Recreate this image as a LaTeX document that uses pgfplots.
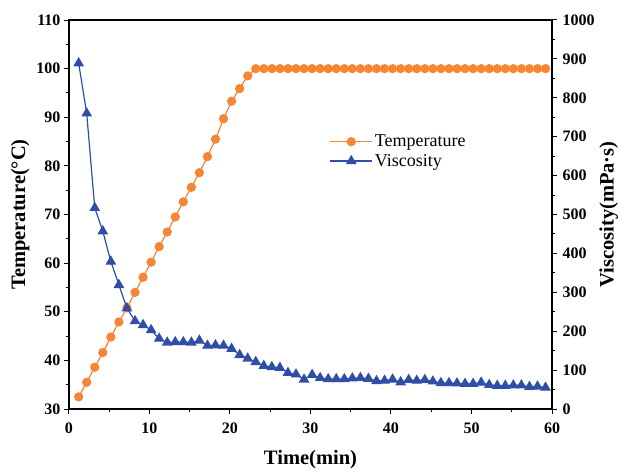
\documentclass[border=0pt]{standalone}
\usepackage{fontspec}
\setmainfont{Liberation Serif}
\usepackage{pgfplots}
\pgfplotsset{compat=1.18}
\definecolor{tcol}{RGB}{246,133,54}
\definecolor{vcol}{RGB}{46,78,168}

\pgfplotstableread{
t T
1.2 32.5
2.2 35.5
3.2 38.6
4.2 41.6
5.2 44.8
6.2 47.9
7.2 50.8
8.2 54.0
9.2 57.1
10.2 60.2
11.2 63.4
12.2 66.4
13.2 69.5
14.2 72.6
15.2 75.6
16.2 78.6
17.2 81.9
18.2 85.5
19.2 89.7
20.2 93.3
21.2 95.9
22.2 98.5
23.2 100
24.2 100
25.2 100
26.2 100
27.2 100
28.2 100
29.2 100
30.2 100
31.2 100
32.2 100
33.2 100
34.2 100
35.2 100
36.2 100
37.2 100
38.2 100
39.2 100
40.2 100
41.2 100
42.2 100
43.2 100
44.2 100
45.2 100
46.2 100
47.2 100
48.2 100
49.2 100
50.2 100
51.2 100
52.2 100
53.2 100
54.2 100
55.2 100
56.2 100
57.2 100
58.2 100
59.2 100
}\temptable

\pgfplotstableread{
t V
1.2 889
2.2 760
3.2 517
4.2 457
5.2 379
6.2 319
7.2 259
8.2 226
9.2 216
10.2 203
11.2 181
12.2 171
13.2 172
14.2 172
15.2 171
16.2 176
17.2 163
18.2 164
19.2 163
20.2 155
21.2 139
22.2 130
23.2 121
24.2 111
25.2 108
26.2 106
27.2 93
28.2 89
29.2 76
30.2 88
31.2 80
32.2 77
33.2 77
34.2 77
35.2 79
36.2 80
37.2 78
38.2 72
39.2 73
40.2 76
41.2 69
42.2 75
43.2 73
44.2 75
45.2 71
46.2 67
47.2 67
48.2 66
49.2 65
50.2 65
51.2 68
52.2 62
53.2 60
54.2 60
55.2 61
56.2 61
57.2 57
58.2 58
59.2 55
}\visctable

\begin{document}
\begin{tikzpicture}
\pgfplotsset{every axis/.append style={
  scale only axis, width=483pt, height=389pt, xmin=0, xmax=60,
  /pgf/number format/assume math mode=true,
  /pgf/number format/1000 sep={},
  tick label style={font=\fontsize{16}{19}\selectfont\bfseries},
  label style={font=\fontsize{20.5}{24}\selectfont\bfseries},
  tick align=outside, major tick length=5pt, minor tick length=3pt,
  axis line style={line width=1.1pt},
  every tick/.style={black, line width=1pt}}}
\begin{axis}[ymin=30, ymax=110,
  xtick={0,10,...,60}, minor x tick num=1,
  ytick={30,40,...,110}, minor y tick num=1,
  xtick pos=bottom, ytick pos=left,
  xticklabel style={yshift=-5pt},
  xlabel style={yshift=-10pt},
  xlabel={Time(min)}, ylabel={Temperature(°C)}]
\addplot[tcol, line width=1.2pt, mark=*, mark size=4pt, mark options={fill=tcol, draw=tcol}] table[x=t, y=T] {\temptable};
\end{axis}
\begin{axis}[ymin=0, ymax=1000,
  axis y line*=right, axis x line=none,
  ytick={0,100,...,1000}, minor y tick num=1,
  yticklabel style={xshift=2pt},
  ylabel style={yshift=2pt},
  ylabel={Viscosity(mPa·s)},
  legend style={at={(0.533,0.715)}, anchor=north west, draw=none, fill=none,
    font=\fontsize{18}{21}\selectfont, row sep=2pt},
  legend cell align=left,
  legend image code/.code={\draw[mark repeat=2, mark phase=2] plot coordinates {(0pt,0pt) (21pt,0pt) (42pt,0pt)};}]
\addlegendimage{tcol, line width=1.2pt, mark=*, mark size=4pt, mark options={fill=tcol, draw=tcol}}
\addlegendentry{Temperature}
\addplot[vcol, line width=1.2pt, mark=triangle*, mark size=5pt, mark options={fill=vcol, draw=vcol}] table[x=t, y=V] {\visctable};
\addlegendentry{Viscosity}
\coordinate (bl) at (rel axis cs:0,0);
\coordinate (tr) at (rel axis cs:1,1);
\end{axis}
\pgfresetboundingbox
\path ([shift={(-69pt,-60pt)}]bl) rectangle ([shift={(69pt,20pt)}]tr);
\end{tikzpicture}
\end{document}
